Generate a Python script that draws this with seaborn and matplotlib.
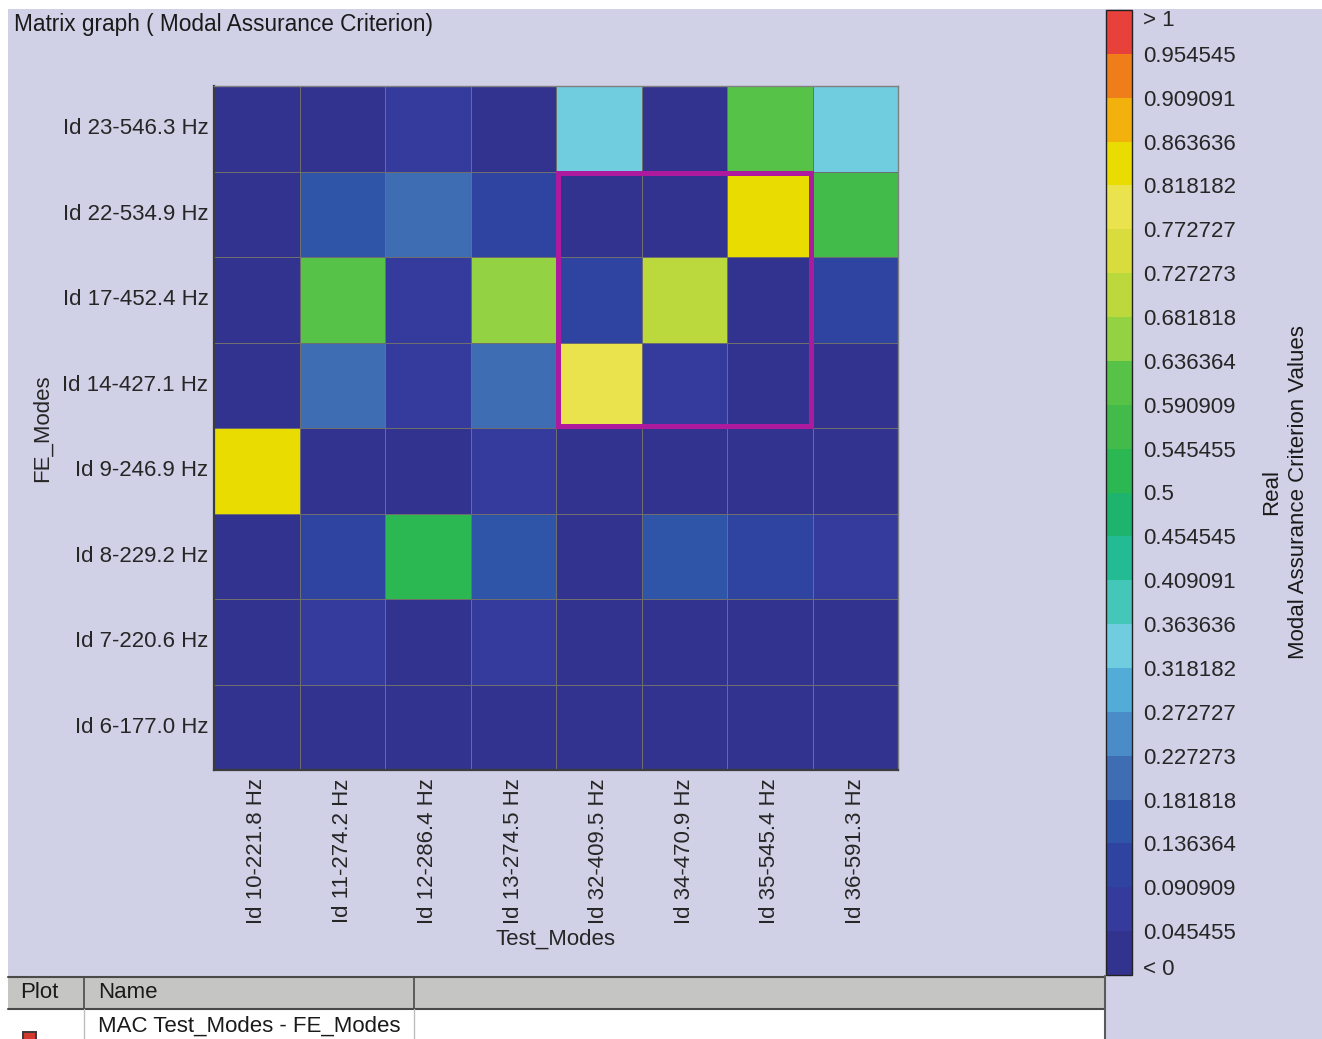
import numpy as np
import pandas as pd
import matplotlib
matplotlib.use("Agg")
import matplotlib.pyplot as plt
from matplotlib.colors import ListedColormap
from matplotlib.patches import Rectangle
from matplotlib.lines import Line2D
import seaborn as sns

# ---- data -------------------------------------------------------------
test_modes = ["Id 10-221.8 Hz", "Id 11-274.2 Hz", "Id 12-286.4 Hz", "Id 13-274.5 Hz",
              "Id 32-409.5 Hz", "Id 34-470.9 Hz", "Id 35-545.4 Hz", "Id 36-591.3 Hz"]
fe_modes = ["Id 23-546.3 Hz", "Id 22-534.9 Hz", "Id 17-452.4 Hz", "Id 14-427.1 Hz",
            "Id 9-246.9 Hz", "Id 8-229.2 Hz", "Id 7-220.6 Hz", "Id 6-177.0 Hz"]

mac_fe23 = [0.02, 0.02, 0.06, 0.02, 0.34, 0.02, 0.61, 0.34]
mac_fe22 = [0.02, 0.16, 0.20, 0.11, 0.02, 0.02, 0.84, 0.57]
mac_fe17 = [0.02, 0.61, 0.06, 0.66, 0.11, 0.70, 0.02, 0.11]
mac_fe14 = [0.02, 0.20, 0.06, 0.20, 0.79, 0.06, 0.02, 0.02]
mac_fe9 = [0.84, 0.02, 0.02, 0.06, 0.02, 0.02, 0.02, 0.02]
mac_fe8 = [0.02, 0.11, 0.52, 0.16, 0.02, 0.16, 0.11, 0.06]
mac_fe7 = [0.02, 0.06, 0.02, 0.06, 0.02, 0.02, 0.02, 0.02]
mac_fe6 = [0.02, 0.02, 0.02, 0.02, 0.02, 0.02, 0.02, 0.02]
mac_rows = [mac_fe23, mac_fe22, mac_fe17, mac_fe14, mac_fe9, mac_fe8, mac_fe7, mac_fe6]

# 22 equal bins from 0 to 1 (bottom to top)
scale_colors = ["#32338e", "#343b9c", "#2f44a0", "#2e55a8", "#3f6db4", "#4a8cc8",
                "#52acd8", "#70cde0", "#44c6b8", "#22bb93", "#1db46d", "#2bb751",
                "#42bb4a", "#56c247", "#93d343", "#bbd93c", "#d8dd3d", "#ebe34e",
                "#e8dc00", "#f2b10c", "#ee7d1a", "#e8403a"]
scale_labels = ["< 0", "0.045455", "0.090909", "0.136364", "0.181818", "0.227273",
                "0.272727", "0.318182", "0.363636", "0.409091", "0.454545", "0.5",
                "0.545455", "0.590909", "0.636364", "0.681818", "0.727273", "0.772727",
                "0.818182", "0.863636", "0.909091", "0.954545", "> 1"]

# block of modes outlined on the matrix
highlight_cols = ("Id 32-409.5 Hz", "Id 35-545.4 Hz")
highlight_rows = ("Id 22-534.9 Hz", "Id 14-427.1 Hz")

# ---- figure -----------------------------------------------------------
W, H = 1322, 1039
sns.set_theme(style="white")
plt.rcParams["font.family"] = ["Liberation Sans", "DejaVu Sans"]
plt.rcParams["text.color"] = "#1a1a1a"

PANEL = "#d0d0e6"
FS = 16

fig = plt.figure(figsize=(W / 100, H / 100), dpi=100, facecolor="white")


def box(x0, y0, x1, y1):
    """pixel box (top-left origin) -> figure fraction [left, bottom, width, height]"""
    return [x0 / W, 1 - y1 / H, (x1 - x0) / W, (y1 - y0) / H]


def fx(x):
    return x / W


def fy(y):
    return 1 - y / H


def add_rect(x0, y0, x1, y1, fc, ec="none", lw=0, z=-1):
    l, b, w, h = box(x0, y0, x1, y1)
    fig.add_artist(Rectangle((l, b), w, h, transform=fig.transFigure,
                             facecolor=fc, edgecolor=ec, linewidth=lw, zorder=z))


def add_line(xs, ys, color, lw, z=-0.5):
    fig.add_artist(Line2D([fx(v) for v in xs], [fy(v) for v in ys],
                          transform=fig.transFigure, color=color, linewidth=lw, zorder=z))


# window panel
add_rect(8, 9, W, H, PANEL)

# table at the bottom
add_rect(8, 977, 1105, 1009, "#c5c5c3")
add_rect(8, 1009, 1105, H + 2, "white")
add_line([8, 1105], [976.5, 976.5], "#4a4a4a", 1.5)
add_line([8, 1105], [1009, 1009], "#4a4a4a", 1.5)
add_line([84, 84], [977, 1009], "#4a4a4a", 1.2)
add_line([414, 414], [977, 1009], "#4a4a4a", 1.2)
add_line([84, 84], [1009, H], "#bdbdbd", 1.0)
add_line([414, 414], [1009, H], "#bdbdbd", 1.0)
add_line([1105, 1105], [976, H], "#5a5a5a", 1.5)
add_rect(23, 1032, 36, 1046, "#d23a2e", ec="#3a3a3a", lw=1.4, z=0)

fig.text(fx(20), fy(993), "Plot", fontsize=FS, ha="left", va="center")
fig.text(fx(98), fy(993), "Name", fontsize=FS, ha="left", va="center")
fig.text(fx(98), fy(1026), "MAC Test_Modes - FE_Modes", fontsize=FS, ha="left", va="center")

fig.text(fx(14), fy(25), "Matrix graph ( Modal Assurance Criterion)",
         fontsize=16.3, ha="left", va="center")

# ---- heatmap ----------------------------------------------------------
ax = fig.add_axes(box(214, 86, 898, 770))
cax = fig.add_axes(box(1106, 10, 1132, 975))

mac = pd.DataFrame(mac_rows, index=fe_modes, columns=test_modes)
cmap = ListedColormap(scale_colors)

sns.heatmap(mac, ax=ax, cmap=cmap, vmin=0, vmax=1, cbar_ax=cax,
            linewidths=0.7, linecolor="#6e6e6e", square=False,
            xticklabels=test_modes, yticklabels=fe_modes)

for name, sp in ax.spines.items():
    sp.set_visible(True)
    sp.set_color("#3c3c3c" if name in ("left", "bottom") else "#808080")
    sp.set_linewidth(1.6 if name in ("left", "bottom") else 1.0)

ax.tick_params(axis="both", length=0, labelsize=FS)
ax.tick_params(axis="x", pad=6)
ax.tick_params(axis="y", pad=4)
for t in ax.get_xticklabels():
    t.set_rotation(90)
    t.set_ha("center")
    t.set_va("top")
for t in ax.get_yticklabels():
    t.set_rotation(0)

ax.set_xlabel("Test_Modes", fontsize=FS)
ax.set_ylabel("FE_Modes", fontsize=FS)
ax.xaxis.set_label_coords(0.5, -0.232)
ax.yaxis.set_label_coords(-0.235, 0.5)

# outlined block
c0, c1 = test_modes.index(highlight_cols[0]), test_modes.index(highlight_cols[1])
r0, r1 = fe_modes.index(highlight_rows[0]), fe_modes.index(highlight_rows[1])
ax.add_patch(Rectangle((c0 + 0.02, r0 + 0.02), c1 - c0 + 1 - 0.04, r1 - r0 + 1 - 0.04,
                       fill=False, edgecolor="#ad1a9d", linewidth=3.6, zorder=5))

# ---- colour scale -----------------------------------------------------
cbar = ax.collections[0].colorbar
ticks = np.linspace(0, 1, len(scale_labels))
cbar.set_ticks(ticks)
cbar.set_ticklabels(scale_labels)
cbar.outline.set_edgecolor("#222222")
cbar.outline.set_linewidth(1.0)
cax.tick_params(axis="y", length=0, pad=8, labelsize=FS)
labels = cax.get_yticklabels()
labels[0].set_va("baseline")
labels[-1].set_va("top")

fig.text(fx(1285), fy(492), "Real\nModal Assurance Criterion Values",
         rotation=90, ha="center", va="center", multialignment="center",
         fontsize=FS, linespacing=1.35)

fig.savefig("out.png", dpi=100, facecolor=fig.get_facecolor())
